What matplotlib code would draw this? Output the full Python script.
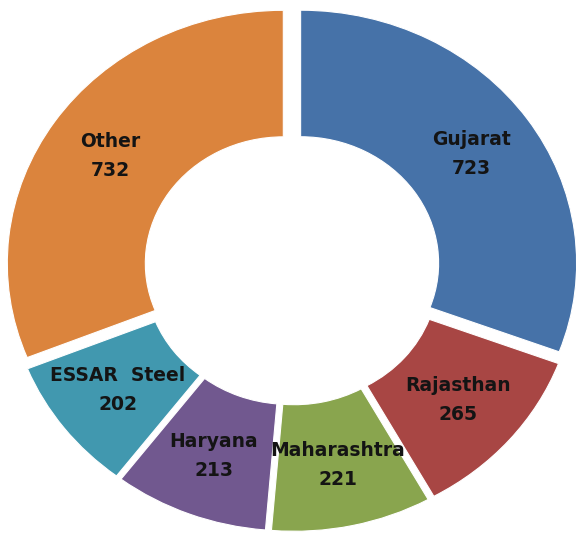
import numpy as np
import matplotlib
matplotlib.use("Agg")
import matplotlib.pyplot as plt

categories = ["Gujarat", "Rajasthan", "Maharashtra", "Haryana", "ESSAR  Steel", "Other"]
values = [723, 265, 221, 213, 202, 732]
colors = ["#4672A8", "#A84644", "#89A54E", "#71588F", "#4198AF", "#DB843D"]

fig = plt.figure(figsize=(5.76, 5.34), dpi=100)
ax = fig.add_axes([0, 0, 1, 1])
ax.set_axis_off()

wedges, _ = ax.pie(values, colors=colors, startangle=90, counterclock=False,
                   explode=[0.038] * len(values), radius=1.0,
                   wedgeprops=dict(width=0.50, edgecolor="white", linewidth=0.8))

ax.set_aspect("auto")
ax.set_xlim(-1.058, 1.029)
ax.set_ylim(-1.048, 1.062)

for w, name, v in zip(wedges, categories, values):
    mid = np.deg2rad((w.theta1 + w.theta2) / 2)
    cx, cy = w.center
    x = cx + 0.755 * np.cos(mid)
    y = cy + 0.755 * np.sin(mid)
    ax.text(x, y, f"{name}\n{v}", ha="center", va="center",
            fontsize=13.5, fontweight="bold", family=["DejaVu Sans"],
            color="#141414", linespacing=1.65)

fig.savefig("out.png", dpi=100)
